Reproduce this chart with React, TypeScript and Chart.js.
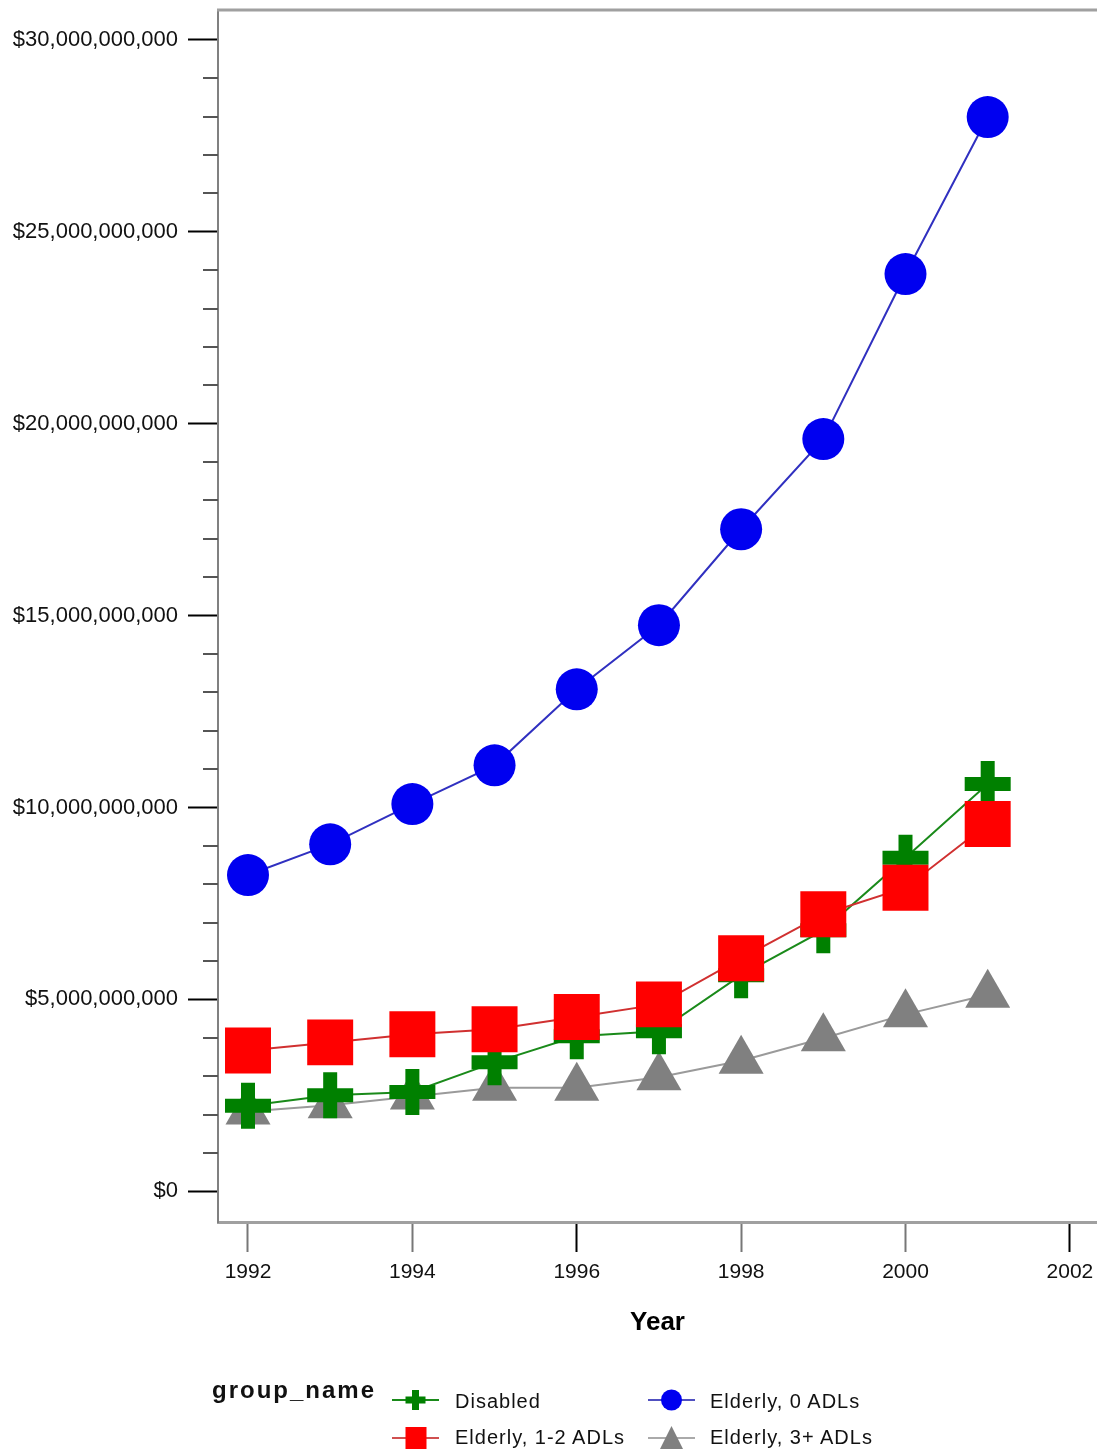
import React, { useEffect, useRef } from 'react';
import { Chart, registerables } from 'chart.js';

Chart.register(...registerables);

// ---- data (values in billions of US dollars) ----
const years = [1992, 1993, 1994, 1995, 1996, 1997, 1998, 1999, 2000, 2001];
const disabledBn = [2.23, 2.5, 2.59, 3.36, 4.04, 4.17, 5.63, 6.8, 8.69, 10.61];
const elderly0Bn = [8.24, 9.04, 10.09, 11.1, 13.08, 14.75, 17.25, 19.6, 23.9, 27.99];
const elderly12Bn = [3.67, 3.88, 4.09, 4.22, 4.54, 4.87, 6.07, 7.22, 7.91, 9.57];
const elderly3Bn = [2.08, 2.24, 2.47, 2.7, 2.7, 2.97, 3.4, 3.99, 4.61, 5.12];

const seriesNames = ['Disabled', 'Elderly, 0 ADLs', 'Elderly, 1-2 ADLs', 'Elderly, 3+ ADLs'];
const legendTitle = 'group_name';
const xTitle = 'Year';
const MAJOR = 5; // billions between labelled ticks
const UNIT = 1e9;

const FONT = '"Liberation Sans", Arial, sans-serif';

const fmtDollar = (bn: number) =>
  '$' + String(Math.round(bn * UNIT)).replace(/\B(?=(\d{3})+(?!\d))/g, ',');

const isMajor = (v: number) => Math.abs(v / MAJOR - Math.round(v / MAJOR)) < 1e-6;

const toPts = (arr: number[]) => years.map((yr, i) => ({ x: yr, y: arr[i] }));

const framePlugin = {
  id: 'frameMinor',
  afterDraw(chart: any) {
    const { ctx, chartArea, scales } = chart;
    ctx.save();
    ctx.strokeStyle = '#a0a0a0';
    ctx.lineWidth = 3;
    ctx.beginPath();
    ctx.moveTo(chartArea.left - 1, chartArea.top);
    ctx.lineTo(chartArea.right, chartArea.top);
    ctx.stroke();
    const ys = scales.y;
    ctx.strokeStyle = '#555';
    ctx.lineWidth = 2;
    ys.ticks.forEach((t: any) => {
      if (!isMajor(t.value)) {
        const py = Math.round(ys.getPixelForValue(t.value));
        ctx.beginPath();
        ctx.moveTo(chartArea.left - 15, py);
        ctx.lineTo(chartArea.left, py);
        ctx.stroke();
      }
    });
    ctx.restore();
  },
};

function LegendMarker({ kind, color, line }: { kind: string; color: string; line: string }) {
  let shape: any = null;
  if (kind === 'plus') {
    shape = (
      <g fill={color}>
        <rect x={20} y={5} width={7} height={20} />
        <rect x={13.5} y={11.5} width={20} height={7} />
      </g>
    );
  } else if (kind === 'circle') {
    shape = <circle cx={23.5} cy={15} r={10.5} fill={color} />;
  } else if (kind === 'square') {
    shape = <rect x={13.5} y={4} width={21} height={22} fill={color} />;
  } else {
    shape = <polygon points="23.5,3 35,26 12,26" fill={color} />;
  }
  return (
    <svg width={47} height={30} style={{ display: 'block' }}>
      <line x1={0} y1={15} x2={47} y2={15} stroke={line} strokeWidth={2} />
      {shape}
    </svg>
  );
}

export default function App() {
  const ref = useRef<HTMLCanvasElement | null>(null);

  useEffect(() => {
    if (!ref.current) return;
    const chart = new Chart(ref.current, {
      type: 'line',
      data: {
        datasets: [
          {
            label: seriesNames[1],
            data: toPts(elderly0Bn),
            borderColor: '#3030c0',
            borderWidth: 2,
            pointStyle: 'circle',
            pointRadius: 21,
            pointBackgroundColor: '#0000f0',
            pointBorderWidth: 0,
          },
          {
            label: seriesNames[2],
            data: toPts(elderly12Bn),
            borderColor: '#d03030',
            borderWidth: 2,
            pointStyle: 'rect',
            pointRadius: 32.5,
            pointBackgroundColor: '#ff0000',
            pointBorderWidth: 0,
          },
          {
            label: seriesNames[0],
            data: toPts(disabledBn),
            borderColor: '#1a8a1a',
            borderWidth: 2,
            pointStyle: 'cross',
            pointRadius: 23,
            pointBorderColor: '#008000',
            pointBorderWidth: 14,
          },
          {
            label: seriesNames[3],
            data: toPts(elderly3Bn),
            borderColor: '#9a9a9a',
            borderWidth: 2,
            pointStyle: 'triangle',
            pointRadius: 26,
            pointBackgroundColor: '#808080',
            pointBorderWidth: 0,
          },
        ],
      },
      options: {
        animation: false,
        responsive: false,
        devicePixelRatio: 1,
        layout: { autoPadding: false, padding: { left: 8, top: 10, right: 0, bottom: 112 } },
        plugins: { legend: { display: false }, tooltip: { enabled: false } },
        scales: {
          x: {
            type: 'linear',
            min: 1991.635,
            max: 2002.33,
            afterFit: (s: any) => {
              s.height = 120;
              s.paddingLeft = 0;
              s.paddingRight = 0;
            },
            ticks: {
              stepSize: 2,
              includeBounds: false,
              autoSkip: false,
              maxRotation: 0,
              padding: 8,
              color: '#111',
              font: { family: FONT, size: 21 },
              callback: (v: any) => String(v),
            },
            grid: {
              drawOnChartArea: false,
              drawTicks: true,
              tickLength: 30,
              tickWidth: 2,
              tickColor: (c: any) => (c.tick && (c.tick.value === 1996 || c.tick.value === 2002) ? '#000' : '#777'),
            },
            border: { display: true, color: '#a0a0a0', width: 3 },
            title: {
              display: true,
              text: xTitle,
              color: '#000',
              font: { family: FONT, size: 26, weight: 'bold' },
              padding: { top: 0, bottom: 4 },
            },
          },
          y: {
            type: 'linear',
            min: -0.8,
            max: 30.78,
            afterFit: (s: any) => {
              s.width = 210;
              s.paddingTop = 0;
              s.paddingBottom = 0;
            },
            ticks: {
              stepSize: 1,
              includeBounds: false,
              autoSkip: false,
              padding: 10,
              color: '#111',
              font: { family: FONT, size: 22 },
              callback: (v: any) => (isMajor(Number(v)) ? fmtDollar(Number(v)) : ''),
            },
            grid: {
              drawOnChartArea: false,
              drawTicks: true,
              tickLength: 30,
              tickWidth: 2,
              tickColor: (c: any) => (c.tick && isMajor(c.tick.value) ? '#000' : 'rgba(0,0,0,0)'),
            },
            border: { display: true, color: '#808080', width: 2 },
          },
        },
      },
      plugins: [framePlugin],
    } as any);
    return () => chart.destroy();
  }, []);

  const txt: React.CSSProperties = {
    position: 'absolute',
    fontFamily: FONT,
    fontSize: 20,
    lineHeight: '20px',
    color: '#111',
    whiteSpace: 'nowrap',
    letterSpacing: '1px',
  };

  return (
    <div style={{ position: 'absolute', left: 0, top: 0, width: 1097, height: 1454, background: '#fff', overflow: 'hidden' }}>
      <canvas ref={ref} width={1097} height={1454} style={{ display: 'block' }} />
      <div
        style={{
          position: 'absolute',
          left: 212,
          top: 1378,
          fontFamily: FONT,
          fontSize: 24,
          lineHeight: '24px',
          fontWeight: 'bold',
          letterSpacing: '2px',
          color: '#111',
          whiteSpace: 'nowrap',
        }}
      >
        {legendTitle}
      </div>
      <div style={{ position: 'absolute', left: 392, top: 1385 }}>
        <LegendMarker kind="plus" color="#008000" line="#1a8a1a" />
      </div>
      <div style={{ ...txt, left: 455, top: 1391 }}>{seriesNames[0]}</div>
      <div style={{ position: 'absolute', left: 648, top: 1385 }}>
        <LegendMarker kind="circle" color="#0000f0" line="#5050c0" />
      </div>
      <div style={{ ...txt, left: 710, top: 1391 }}>{seriesNames[1]}</div>
      <div style={{ position: 'absolute', left: 392, top: 1423 }}>
        <LegendMarker kind="square" color="#ff0000" line="#d05050" />
      </div>
      <div style={{ ...txt, left: 455, top: 1427 }}>{seriesNames[2]}</div>
      <div style={{ position: 'absolute', left: 648, top: 1423 }}>
        <LegendMarker kind="triangle" color="#808080" line="#aaaaaa" />
      </div>
      <div style={{ ...txt, left: 710, top: 1427 }}>{seriesNames[3]}</div>
    </div>
  );
}
